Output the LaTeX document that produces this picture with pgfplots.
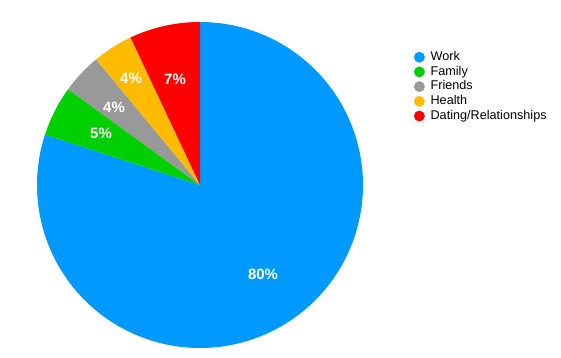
\documentclass[border=0pt]{standalone}
\usepackage{pgfplots}
\pgfplotsset{compat=1.18}
\usepackage{fontspec}
\setmainfont{Liberation Sans}
\definecolor{cWork}{RGB}{0,153,255}
\definecolor{cFamily}{RGB}{0,208,0}
\definecolor{cFriends}{RGB}{153,153,153}
\definecolor{cHealth}{RGB}{255,187,0}
\definecolor{cDating}{RGB}{255,0,0}
% values (percent)
\def\vWork{80}
\def\vFamily{5}
\def\vFriends{4}
\def\vHealth{4}
\def\vDating{7}
% geometry (axis units = pixels)
\def\cx{200}
\def\cy{173}
\def\R{163}
\begin{document}
\begin{tikzpicture}
\begin{axis}[
  name=ax,
  width=561bp, height=358bp, scale only axis,
  xmin=0, xmax=561, ymin=0, ymax=358,
  hide axis, clip=false,
  legend style={draw=none, fill=none, at={(axis cs:411,310.3)}, anchor=north west,
    font=\fontsize{12.7}{14}\selectfont, column sep=4bp,
    nodes={inner ysep=1.0bp, text height=9.5bp, text depth=3.2bp}},
  legend cell align=left,
]
\pgfmathsetmacro{\aA}{90}
\pgfmathsetmacro{\aB}{\aA-3.6*\vWork}
\pgfmathsetmacro{\aC}{\aB+360-3.6*\vFamily}
\pgfmathsetmacro{\aD}{\aC-3.6*\vFriends}
\pgfmathsetmacro{\aE}{\aD-3.6*\vHealth}
\pgfmathsetmacro{\aF}{\aE-3.6*\vDating}
% slices
\addplot[draw=none, fill=cWork, domain=\aB:\aA, samples=181, variable=\t, forget plot]
  ({\cx+\R*cos(\t)},{\cy+\R*sin(\t)}) -- (axis cs:\cx,\cy) -- cycle;
\addplot[draw=none, fill=cFamily, domain=\aC:\aB+360, samples=21, variable=\t, forget plot]
  ({\cx+\R*cos(\t)},{\cy+\R*sin(\t)}) -- (axis cs:\cx,\cy) -- cycle;
\addplot[draw=none, fill=cFriends, domain=\aD:\aC, samples=21, variable=\t, forget plot]
  ({\cx+\R*cos(\t)},{\cy+\R*sin(\t)}) -- (axis cs:\cx,\cy) -- cycle;
\addplot[draw=none, fill=cHealth, domain=\aE:\aD, samples=21, variable=\t, forget plot]
  ({\cx+\R*cos(\t)},{\cy+\R*sin(\t)}) -- (axis cs:\cx,\cy) -- cycle;
\addplot[draw=none, fill=cDating, domain=\aF:\aE, samples=31, variable=\t, forget plot]
  ({\cx+\R*cos(\t)},{\cy+\R*sin(\t)}) -- (axis cs:\cx,\cy) -- cycle;
% labels
\begin{scope}[every node/.style={text=white, font=\bfseries\fontsize{15}{15}\selectfont}]
\node at (axis cs:263,84) {80\%};
\node at (axis cs:101,225) {5\%};
\node at (axis cs:114,251) {4\%};
\node at (axis cs:131,280) {4\%};
\node at (axis cs:175,279) {7\%};
\end{scope}
% legend
\addlegendimage{only marks, mark=*, mark size=5.2bp, color=cWork}
\addlegendentry{Work}
\addlegendimage{only marks, mark=*, mark size=5.2bp, color=cFamily}
\addlegendentry{Family}
\addlegendimage{only marks, mark=*, mark size=5.2bp, color=cFriends}
\addlegendentry{Friends}
\addlegendimage{only marks, mark=*, mark size=5.2bp, color=cHealth}
\addlegendentry{Health}
\addlegendimage{only marks, mark=*, mark size=5.2bp, color=cDating}
\addlegendentry{Dating/Relationships}
\end{axis}
\pgfresetboundingbox
\path[use as bounding box] (ax.south west) rectangle (ax.north east);
\end{tikzpicture}
\end{document}
